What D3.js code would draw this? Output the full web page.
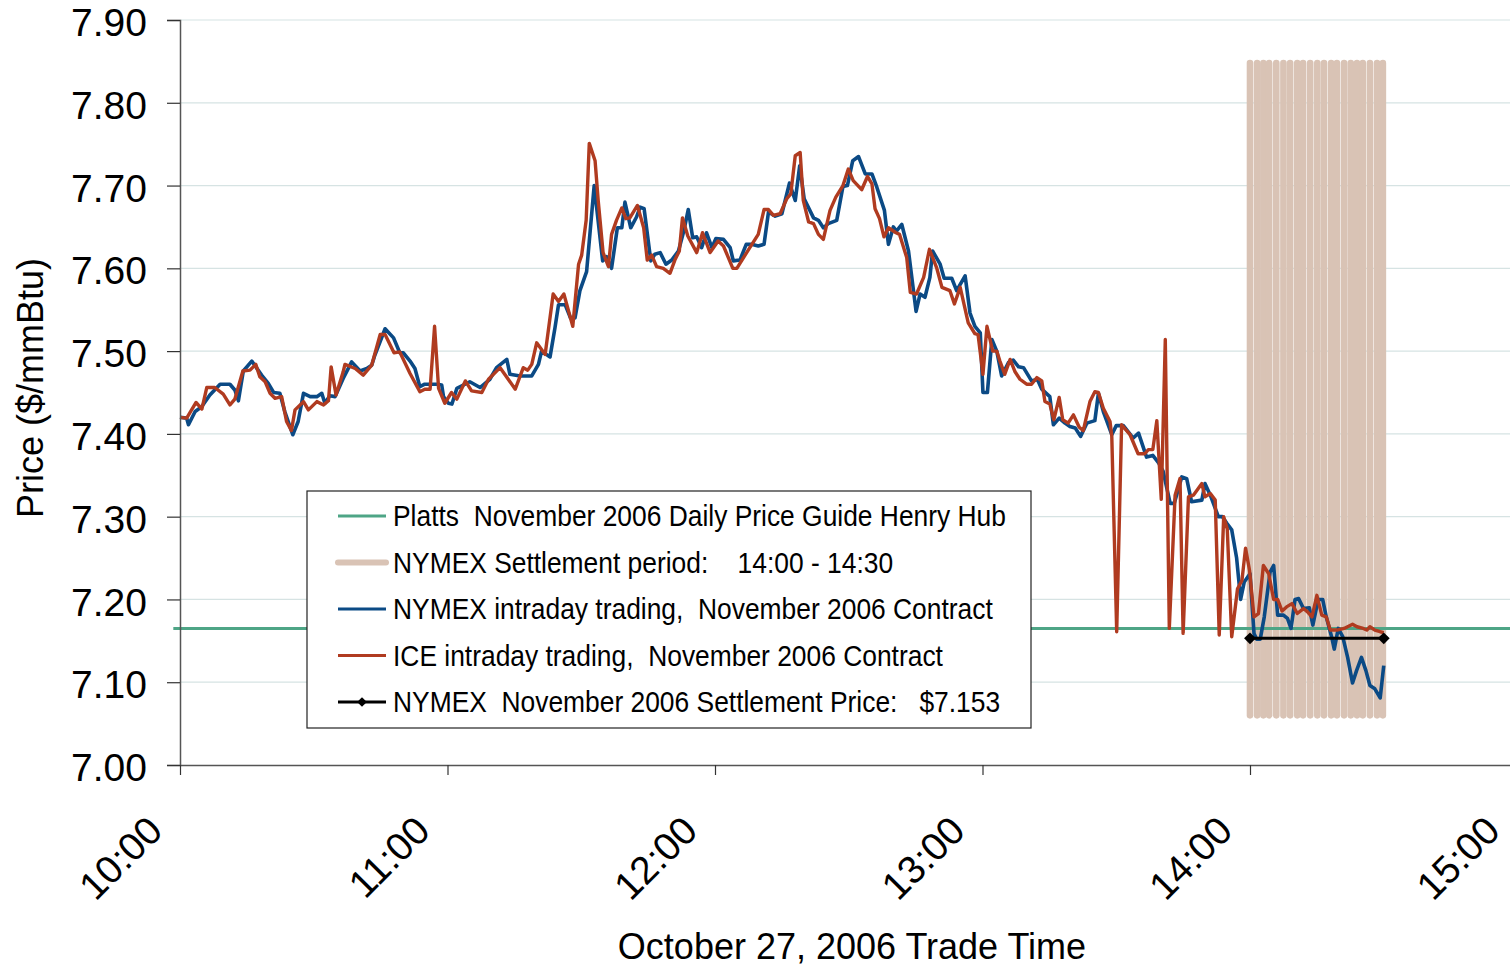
<!DOCTYPE html>
<html>
<head>
<meta charset="utf-8">
<script src="https://cdn.jsdelivr.net/npm/d3@7"></script>
<style>
  body { margin: 0; background: #fff; }
  svg { display: block; font-family: "Liberation Sans", Arial, sans-serif; }
</style>
</head>
<body>
<svg id="chart" width="1510" height="968"></svg>
<script>
// minutes after 10:00
var hourTicks = [0, 60, 120, 180, 240, 300];
var hourLabels = ["10:00", "11:00", "12:00", "13:00", "14:00", "15:00"];
var priceTicks = [7.0, 7.1, 7.2, 7.3, 7.4, 7.5, 7.6, 7.7, 7.8, 7.9];

var plattsPrice = 7.165;
var settlePrice = 7.153;
var settleStart = 240, settleEnd = 270;
// settlement-period trade marks
var settleMarks = [240.0, 241.6, 243.0, 244.3, 245.9, 247.5, 249.0, 250.6, 251.9, 253.5, 255.1,
  256.6, 258.2, 259.5, 261.1, 262.6, 264.0, 265.3, 266.9, 268.5, 269.8];

var nymexTime = [0, 1.5, 1.9, 3.4, 4.9, 6.7, 9.0, 11.2, 12.3, 13.1, 14.2, 16.1, 18.3, 19.8, 21, 22.4,
  23.5, 25.3, 26.5, 27.7, 29.2, 30.7, 31.8, 32.5, 33.6, 34.8, 36.6, 38.5, 40.4, 41.9, 43, 43.7, 46,
  47.9, 49.3, 50.1, 51.6, 52.7, 53.8, 54.9, 57.6, 58.7, 59.1, 60.2, 61, 62.1, 65, 67.3, 69.5, 71,
  73.3, 74, 76.3, 78.9, 80.4, 81.1, 83, 84.1, 84.9, 86.4, 87.6, 88.6, 89.7, 91.2, 92.9, 94.8, 95.7,
  96.8, 98.1, 99.1, 99.8, 101.1, 102.4, 103.2, 104.1, 105.6, 106.5, 107.7, 109, 110.3, 111.8, 113,
  114, 115, 115.9, 117, 118.1, 119.3, 120.2, 121.9, 123.4, 124.1, 125.6, 127, 128.2, 129.7, 131,
  132, 133.5, 135, 136.7, 138, 139, 140, 142.1, 143.2, 144.3, 145.4, 147.3, 148.7, 149.7, 150.9,
  152.2, 153.7, 155.2, 156.3, 158, 158.9, 160, 160.7, 161.9, 163.4, 165.1, 166.0, 167.1, 168.2,
  168.8, 170.5, 171.4, 173.1, 174.2, 176.1, 177.2, 178.3, 179.5, 180.1, 181.1, 182.1, 183.2, 184.3,
  185.8, 186.9, 188.1, 189.2, 191, 192.3, 193.3, 194.3, 195.1, 195.9, 197.2, 198.5, 199.6, 200.8,
  202, 203.4, 205.2, 206, 207.1, 209, 210, 211.6, 213.8, 215, 216.8, 218.2, 219.5, 220.5, 222.1,
  223, 224.7, 225.8, 226.9, 229.2, 229.9, 231.1, 232.9, 233.8, 234.8, 235.9, 237.0, 237.9, 238.7,
  240, 240.9, 241.5, 242.3, 243.2, 244.5, 245.3, 246.2, 247.5, 248.4, 249.2, 250.1, 250.9, 252.0,
  253.3, 254.1, 255.3, 256.3, 257.1, 258.3, 258.9, 259.8, 260.8, 261.9, 263.0, 263.9, 265, 266,
  266.9, 268.0, 269.2, 270];
var nymexPrice = [7.42, 7.419, 7.411, 7.427, 7.433, 7.447, 7.46, 7.46, 7.453, 7.44, 7.476, 7.488,
  7.471, 7.461, 7.45, 7.449, 7.427, 7.399, 7.415, 7.449, 7.445, 7.445, 7.449, 7.437, 7.446, 7.445,
  7.467, 7.487, 7.476, 7.479, 7.483, 7.495, 7.527, 7.516, 7.498, 7.498, 7.488, 7.479, 7.457, 7.46,
  7.46, 7.459, 7.445, 7.437, 7.436, 7.455, 7.463, 7.456, 7.466, 7.48, 7.49, 7.472, 7.47, 7.47,
  7.484, 7.5, 7.493, 7.528, 7.556, 7.556, 7.54, 7.54, 7.573, 7.596, 7.70, 7.609, 7.614, 7.60,
  7.649, 7.649, 7.68, 7.649, 7.662, 7.674, 7.672, 7.609, 7.617, 7.619, 7.605, 7.61, 7.621, 7.645,
  7.671, 7.637, 7.638, 7.625, 7.643, 7.625, 7.636, 7.635, 7.625, 7.609, 7.61, 7.629, 7.629, 7.627,
  7.629, 7.668, 7.663, 7.666, 7.703, 7.682, 7.724, 7.684, 7.661, 7.658, 7.649, 7.654, 7.658, 7.699,
  7.70, 7.73, 7.735, 7.714, 7.714, 7.698, 7.67, 7.629, 7.65, 7.645, 7.653, 7.621, 7.548, 7.569,
  7.565, 7.589, 7.621, 7.605, 7.588, 7.588, 7.573, 7.591, 7.546, 7.53, 7.522, 7.45, 7.45, 7.514,
  7.50, 7.47, 7.486, 7.489, 7.481, 7.48, 7.464, 7.466, 7.454, 7.449, 7.445, 7.411, 7.419, 7.413,
  7.409, 7.407, 7.397, 7.413, 7.416, 7.449, 7.427, 7.399, 7.41, 7.41, 7.395, 7.401, 7.372, 7.374,
  7.365, 7.355, 7.316, 7.316, 7.348, 7.346, 7.318, 7.32, 7.34, 7.326, 7.30, 7.30, 7.292, 7.284,
  7.25, 7.20, 7.221, 7.231, 7.159, 7.152, 7.152, 7.179, 7.233, 7.241, 7.181, 7.181, 7.177, 7.165,
  7.20, 7.201, 7.189, 7.19, 7.169, 7.20, 7.20, 7.179, 7.155, 7.14, 7.165, 7.155, 7.13, 7.099,
  7.114, 7.13, 7.114, 7.096, 7.092, 7.081, 7.12];

var iceTime = [0, 1.5, 3.6, 4.9, 6, 7.8, 9.7, 11.2, 12.3, 14.1, 15.7, 17, 17.9, 19.1, 20.2, 21.3,
  22.8, 23.9, 25.0, 25.8, 27.7, 28.8, 30.7, 32.2, 33.3, 33.9, 35, 36.6, 37, 39.3, 41.1, 43, 44.9,
  46, 48, 49.3, 51.6, 53.8, 54.9, 56.1, 57.1, 58, 59.4, 60.9, 62.1, 64, 65.4, 67.7, 69.2, 71.8,
  75.2, 77, 78, 78.9, 80, 81.9, 83.7, 84.9, 86.1, 88.1, 89.4, 90.1, 91.1, 91.8, 93.1, 93.8, 94.9,
  96.1, 96.8, 97.9, 99.1, 100, 100.9, 102.6, 104, 104.8, 105.8, 106.9, 108.4, 109.9, 111, 112,
  112.7, 113.9, 115.9, 117.2, 118.9, 120.7, 121.9, 124, 124.9, 127.1, 129.7, 131, 132, 133.1,
  134.6, 136.1, 137, 138, 139.1, 139.8, 141, 142.1, 143.2, 144.3, 145.8, 147.1, 148.7, 149.9, 151,
  152.9, 154.2, 155.2, 155.9, 156.9, 157.9, 158.9, 160.6, 161.4, 163, 163.8, 165.2, 166.8, 168.1,
  169.7, 170.9, 172.7, 173.7, 175, 176.8, 178.3, 179, 180.1, 181, 182.3, 183.2, 183.9, 185, 186.2,
  187.3, 188.4, 189.9, 191, 192.2, 193.3, 194, 195.1, 196, 197.2, 198, 199.2, 200.4, 201.7, 202.6,
  204.1, 205.2, 206, 207.1, 208.6, 209, 210.1, 211.2, 213.1, 214.9, 216.4, 217.2, 218.2, 219.1,
  220.1, 221.0, 221.9, 223.2, 224.3, 225.0, 226.2, 227.3, 229.2, 229.9, 231.1, 232.2, 233.1, 234.1,
  234.9, 235.9, 237.2, 238.2, 239.0, 239.9, 240.9, 241.9, 243, 244.2, 245.3, 246.2, 247.2, 248.2,
  249.4, 250.6, 252, 252.9, 253.9, 255, 256.1, 257.1, 258, 259.5, 261.1, 263, 264, 265.4, 266.2,
  266.9, 268, 269.2, 270];
var icePrice = [7.42, 7.419, 7.438, 7.43, 7.456, 7.456, 7.448, 7.435, 7.442, 7.476, 7.477, 7.484,
  7.469, 7.463, 7.449, 7.443, 7.445, 7.415, 7.404, 7.429, 7.439, 7.429, 7.439, 7.435, 7.44, 7.481,
  7.447, 7.475, 7.484, 7.479, 7.471, 7.483, 7.52, 7.52, 7.498, 7.499, 7.473, 7.451, 7.454, 7.454,
  7.53, 7.455, 7.437, 7.45, 7.442, 7.464, 7.452, 7.45, 7.466, 7.48, 7.454, 7.48, 7.477, 7.484,
  7.51, 7.496, 7.569, 7.56, 7.569, 7.53, 7.605, 7.616, 7.658, 7.751, 7.73, 7.682, 7.619, 7.602,
  7.641, 7.658, 7.673, 7.66, 7.661, 7.676, 7.649, 7.61, 7.616, 7.602, 7.60, 7.594, 7.61, 7.621,
  7.661, 7.639, 7.619, 7.643, 7.619, 7.633, 7.627, 7.60, 7.60, 7.619, 7.641, 7.671, 7.671, 7.664,
  7.666, 7.684, 7.69, 7.736, 7.74, 7.682, 7.656, 7.654, 7.641, 7.635, 7.67, 7.686, 7.70, 7.72,
  7.706, 7.695, 7.711, 7.702, 7.672, 7.66, 7.638, 7.649, 7.643, 7.641, 7.613, 7.571, 7.569, 7.589,
  7.623, 7.601, 7.577, 7.573, 7.557, 7.577, 7.534, 7.521, 7.52, 7.472, 7.53, 7.50, 7.50, 7.488,
  7.472, 7.49, 7.475, 7.466, 7.46, 7.46, 7.468, 7.464, 7.439, 7.436, 7.417, 7.444, 7.417, 7.413,
  7.423, 7.408, 7.404, 7.439, 7.451, 7.45, 7.431, 7.415, 7.397, 7.161, 7.411, 7.399, 7.376, 7.376,
  7.381, 7.381, 7.416, 7.321, 7.514, 7.165, 7.326, 7.346, 7.159, 7.324, 7.326, 7.34, 7.324, 7.328,
  7.32, 7.157, 7.30, 7.285, 7.155, 7.213, 7.223, 7.262, 7.235, 7.179, 7.183, 7.241, 7.231, 7.20,
  7.20, 7.186, 7.191, 7.195, 7.183, 7.189, 7.185, 7.179, 7.205, 7.181, 7.179, 7.163, 7.163, 7.165,
  7.17, 7.167, 7.165, 7.163, 7.167, 7.163, 7.161, 7.16];

var legendLabels = [
  "Platts  November 2006 Daily Price Guide Henry Hub",
  "NYMEX Settlement period:    14:00 - 14:30",
  "NYMEX intraday trading,  November 2006 Contract",
  "ICE intraday trading,  November 2006 Contract",
  "NYMEX  November 2006 Settlement Price:   $7.153"
];

var colGreen = "#4ea586", colBeige = "#d9c3b5", colBlue = "#0b4a85",
    colRed = "#b03b20", colGrid = "#d6e3e3";

var svg = d3.select("#chart");
// 15:00 sits just past the right edge of the picture
var x = d3.scaleLinear().domain([0, 300]).range([180, 1517.5]);
var y = d3.scaleLinear().domain([7.0, 7.9]).range([765, 20]);

// gridlines
svg.append("g").selectAll("line")
  .data(priceTicks.slice(1))
  .enter().append("line")
  .attr("x1", x(0)).attr("x2", 1510)
  .attr("y1", function(d){ return y(d); })
  .attr("y2", function(d){ return y(d); })
  .attr("stroke", colGrid).attr("stroke-width", 1.2);

// settlement period bars
svg.append("g").selectAll("line")
  .data(settleMarks)
  .enter().append("line")
  .attr("x1", function(d){ return x(d); })
  .attr("x2", function(d){ return x(d); })
  .attr("y1", y(7.06)).attr("y2", y(7.848))
  .attr("stroke", colBeige).attr("stroke-width", 6.6)
  .attr("stroke-linecap", "round");

// platts line
svg.append("line")
  .attr("x1", x(-1.5)).attr("x2", 1510)
  .attr("y1", y(plattsPrice)).attr("y2", y(plattsPrice))
  .attr("stroke", colGreen).attr("stroke-width", 3);

var line = d3.line()
  .x(function(d){ return x(d[0]); })
  .y(function(d){ return y(d[1]); });

svg.append("path")
  .datum(d3.zip(nymexTime, nymexPrice))
  .attr("d", line)
  .attr("fill", "none").attr("stroke", colBlue)
  .attr("stroke-width", 3.6).attr("stroke-linejoin", "round");

svg.append("path")
  .datum(d3.zip(iceTime, icePrice))
  .attr("d", line)
  .attr("fill", "none").attr("stroke", colRed)
  .attr("stroke-width", 3.4).attr("stroke-linejoin", "round");

// settlement price
var settleData = [[settleStart, settlePrice], [settleEnd, settlePrice]];
svg.append("path")
  .datum(settleData)
  .attr("d", line)
  .attr("stroke", "#000").attr("stroke-width", 3);
svg.append("g").selectAll("path")
  .data(settleData)
  .enter().append("path")
  .attr("d", d3.symbol().type(d3.symbolDiamond2).size(90))
  .attr("transform", function(d){ return "translate(" + x(d[0]) + "," + y(d[1]) + ")"; })
  .attr("fill", "#000");

// axes
var yAxis = svg.append("g")
  .attr("transform", "translate(" + x(0) + ",0)")
  .call(d3.axisLeft(y).tickValues(priceTicks).tickFormat(d3.format(".2f")).tickSize(13).tickPadding(20));
yAxis.select(".domain").attr("stroke", "#555").attr("stroke-width", 1.5);
yAxis.selectAll(".tick line").attr("stroke", "#333").attr("stroke-width", 1.2);
yAxis.selectAll("text").attr("font-size", 39).attr("fill", "#000").attr("dy", "0.4em")
  .attr("font-family", "Liberation Sans, Arial, sans-serif");

var xAxis = svg.append("g")
  .attr("transform", "translate(0," + y(7.0) + ")")
  .call(d3.axisBottom(x).tickValues(hourTicks)
    .tickFormat(function(d, i){ return hourLabels[i]; }).tickSize(10).tickSizeOuter(0));
xAxis.select(".domain").attr("stroke", "#555").attr("stroke-width", 1.5);
xAxis.selectAll(".tick line").attr("stroke", "#333").attr("stroke-width", 1.2);
xAxis.selectAll("text")
  .attr("font-size", 39).attr("fill", "#000")
  .attr("font-family", "Liberation Sans, Arial, sans-serif")
  .attr("text-anchor", "end")
  .attr("dy", 0).attr("y", 0)
  .attr("transform", "translate(-16,68) rotate(-45)");

// axis titles
svg.append("text")
  .attr("x", 852).attr("y", 959)
  .attr("text-anchor", "middle").attr("font-size", 36)
  .text("October 27, 2006 Trade Time");
svg.append("text")
  .attr("transform", "translate(43,388) rotate(-90)")
  .attr("text-anchor", "middle").attr("font-size", 36)
  .text("Price ($/mmBtu)");

// legend
var legend = svg.append("g").attr("transform", "translate(307,491)");
legend.append("rect")
  .attr("width", 724).attr("height", 237)
  .attr("fill", "#fff").attr("stroke", "#222").attr("stroke-width", 1.2);
var legendStyles = [
  { color: colGreen, width: 3 },
  { color: colBeige, width: 6 },
  { color: colBlue, width: 3 },
  { color: colRed, width: 3 },
  { color: "#000", width: 3, marker: true }
];
var rows = legend.selectAll("g.row")
  .data(legendLabels)
  .enter().append("g")
  .attr("class", "row")
  .attr("transform", function(d, i){ return "translate(0," + (25 + i * 46.5) + ")"; });
rows.append("line")
  .attr("x1", 31).attr("x2", 79)
  .attr("stroke", function(d, i){ return legendStyles[i].color; })
  .attr("stroke-width", function(d, i){ return legendStyles[i].width; })
  .attr("stroke-linecap", function(d, i){ return i == 1 ? "round" : "butt"; });
rows.filter(function(d, i){ return legendStyles[i].marker; })
  .append("path")
  .attr("d", d3.symbol().type(d3.symbolDiamond2).size(60))
  .attr("transform", "translate(55,0)");
rows.append("text")
  .attr("transform", "translate(86,10) scale(0.91,1)")
  .attr("font-size", 29)
  .style("white-space", "pre")
  .text(function(d){ return d; });
</script>
</body>
</html>
